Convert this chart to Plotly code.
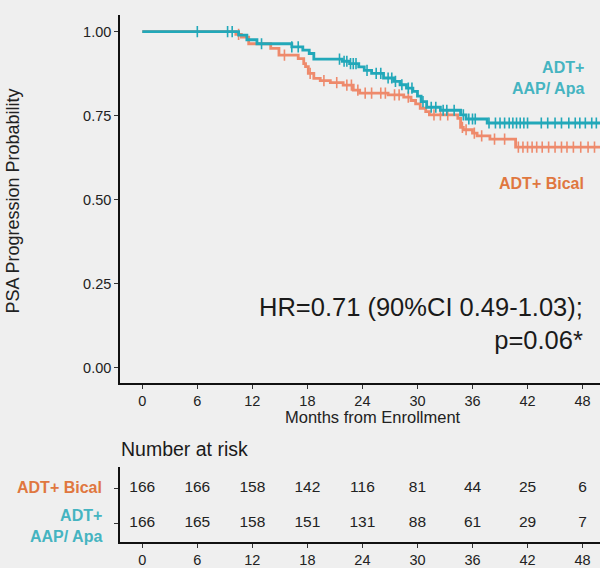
import numpy as np
import plotly.graph_objects as go

# ---- data ----
bical_t = [0, 10.2, 10.8, 11.6, 14.0, 14.9, 17.0, 17.6, 17.8, 18.1, 18.7, 19.4, 20.5, 21.9, 23.0, 23.7,
           26.8, 28.5, 29.3, 29.8, 30.3, 30.9, 31.3, 34.4, 34.7, 35.0, 36.0, 36.5, 37.9, 40.7]
bical_s = [1.0, 0.992, 0.984, 0.964, 0.950, 0.930, 0.920, 0.905, 0.896, 0.876, 0.861, 0.854, 0.848, 0.841, 0.826, 0.817,
           0.812, 0.805, 0.795, 0.785, 0.772, 0.762, 0.752, 0.742, 0.715, 0.708, 0.698, 0.690, 0.680, 0.656]
apa_t = [0, 10.5, 11.4, 12.5, 16.3, 17.5, 18.2, 18.7, 21.8, 22.6, 23.6, 24.2, 25.0, 26.3, 27.4, 28.1,
         28.8, 29.5, 30.0, 30.4, 31.0, 32.5, 34.7, 35.3, 37.6]
apa_s = [1.0, 0.990, 0.976, 0.964, 0.955, 0.945, 0.935, 0.918, 0.912, 0.905, 0.895, 0.885, 0.876, 0.862, 0.852, 0.842,
         0.832, 0.822, 0.808, 0.792, 0.775, 0.766, 0.752, 0.740, 0.728]
t_end = 49.9

bical_cens = [10.5, 15.5, 18.3, 19.8, 21.2, 22.3, 22.8, 23.5, 24.3, 25.0, 26.0, 26.5, 27.5, 28.0, 29.0, 31.8,
              32.5, 33.3, 34.9, 35.3, 36.2, 37.0, 38.4, 39.5, 41.0, 41.5, 42.0, 42.5, 43.0, 43.6, 44.3, 45.0,
              45.7, 46.3, 47.0, 47.8, 48.6, 49.3]
apa_cens = [6.0, 9.3, 9.8, 13.0, 16.3, 17.0, 21.5, 22.0, 22.3, 22.7, 23.0, 23.3, 24.5, 25.5, 26.0, 26.8, 27.2,
            27.6, 28.3, 29.0, 29.4, 30.6, 31.5, 32.0, 32.8, 33.2, 34.0, 35.0, 35.6, 36.0, 36.3, 37.8, 38.5,
            39.0, 39.5, 40.0, 40.4, 40.8, 41.2, 41.6, 42.0, 43.5, 44.2, 45.0, 45.7, 46.5, 47.2, 47.7, 48.3,
            49.0, 49.5]

risk_times = [0, 6, 12, 18, 24, 30, 36, 42, 48]
risk_bical = [166, 166, 158, 142, 116, 81, 44, 25, 6]
risk_apa = [166, 165, 158, 151, 131, 88, 61, 29, 7]

y_ticks = [0.0, 0.25, 0.5, 0.75, 1.0]
y_ticklabels = ["0.00", "0.25", "0.50", "0.75", "1.00"]

# ---- styles ----
C_APA = "#22A8B9"
C_BIC = "#EE8A6C"
T_APA = "#45B4C1"
T_BIC = "#E0773F"
BG = "#EFEFEF"
FONT = "Liberation Sans, Arial, sans-serif"
W, H = 600, 568


def step_at(times, surv, x):
    idx = np.searchsorted(np.array(times), np.array(x), side="right") - 1
    return np.array(surv)[idx]


fig = go.Figure()
for t, s, cens, col, name in [(bical_t, bical_s, bical_cens, C_BIC, "ADT+ Bical"),
                              (apa_t, apa_s, apa_cens, C_APA, "ADT+ AAP/ Apa")]:
    fig.add_trace(go.Scatter(x=list(t) + [t_end], y=list(s) + [s[-1]], mode="lines",
                             line=dict(color=col, width=2.8, shape="hv"), name=name,
                             showlegend=False, xaxis="x", yaxis="y"))
    fig.add_trace(go.Scatter(x=cens, y=step_at(t, s, cens), mode="markers",
                             marker=dict(symbol="line-ns-open", size=8, color=col,
                                         line=dict(color=col, width=1.6)),
                             showlegend=False, xaxis="x", yaxis="y"))

# risk table numbers
for vals, row in [(risk_bical, 2), (risk_apa, 1)]:
    fig.add_trace(go.Scatter(x=risk_times, y=[row] * len(risk_times), mode="text",
                             text=[str(v) for v in vals],
                             textfont=dict(family=FONT, size=15.5, color="#222222"),
                             showlegend=False, xaxis="x2", yaxis="y2"))

def px_y(p):
    return 1 - p / H

xr = [-2.43, 49.9]
fig.update_layout(
    width=W, height=H, margin=dict(l=0, r=0, t=0, b=0),
    paper_bgcolor=BG, plot_bgcolor=BG,
    font=dict(family=FONT, color="#222222"),
    xaxis=dict(domain=[120 / W, 1.0], range=xr, tickvals=risk_times, showgrid=False, zeroline=False,
               showline=True, linecolor="#111111", linewidth=1.5, ticks="outside", ticklen=4,
               tickcolor="#333333", tickfont=dict(size=14.5, color="#222222"), anchor="y"),
    yaxis=dict(domain=[px_y(386), px_y(15)], range=[-0.047, 1.05], tickvals=y_ticks, ticktext=y_ticklabels,
               showgrid=False, zeroline=False, showline=True, linecolor="#111111", linewidth=1.5,
               ticks="outside", ticklen=4, tickcolor="#333333", tickfont=dict(size=14.5, color="#222222"),
               anchor="x"),
    xaxis2=dict(domain=[120 / W, 1.0], range=xr, tickvals=risk_times, showgrid=False, zeroline=False,
                showline=True, linecolor="#111111", linewidth=1.5, ticks="outside", ticklen=4,
                tickcolor="#333333", tickfont=dict(size=14.5, color="#222222"), anchor="y2"),
    yaxis2=dict(domain=[px_y(546), px_y(470)], range=[0.449, 2.62], tickvals=[1, 2], ticktext=["", ""],
                showgrid=False, zeroline=False, showline=True, linecolor="#111111", linewidth=1.5,
                ticks="outside", ticklen=4, tickcolor="#333333", anchor="x2"),
)

ann = [
    dict(text="PSA Progression Probability", x=13 / W, y=px_y(203), xanchor="center", yanchor="middle",
         textangle=-90, font=dict(size=18, color="#222222", family=FONT)),
    dict(text="Months from Enrollment", x=373 / W, y=px_y(420), xanchor="center", yanchor="middle",
         font=dict(size=16.5, color="#222222", family=FONT)),
    dict(text="ADT+<br>AAP/ Apa", x=586 / W, y=px_y(79), xanchor="right", yanchor="middle",
         align="right", font=dict(size=16, color=T_APA, family=FONT)),
    dict(text="ADT+ Bical", x=586 / W, y=px_y(185), xanchor="right", yanchor="middle",
         align="right", font=dict(size=16, color=T_BIC, family=FONT)),
    dict(text="HR=0.71 (90%CI 0.49-1.03);<br>p=0.06*", x=585 / W, y=px_y(326), xanchor="right",
         yanchor="middle", align="right", font=dict(size=25.5, color="#1a1a1a", family=FONT)),
    dict(text="Number at risk", x=119 / W, y=px_y(452), xanchor="left", yanchor="middle",
         font=dict(size=19.5, color="#1a1a1a", family=FONT)),
    dict(text="ADT+ Bical", x=104 / W, y=px_y(491), xanchor="right", yanchor="middle",
         align="right", font=dict(size=16, color=T_BIC, family=FONT)),
    dict(text="ADT+<br>AAP/ Apa", x=104 / W, y=px_y(530), xanchor="right", yanchor="middle",
         align="right", font=dict(size=16, color=T_APA, family=FONT)),
]
for a in ann:
    a.update(xref="paper", yref="paper", showarrow=False)
    if a["text"].startswith("ADT"):
        a["text"] = "<b>" + a["text"].replace("<br>", "</b><br><b>") + "</b>"
fig.update_layout(annotations=ann)

fig.write_html("out.html")
